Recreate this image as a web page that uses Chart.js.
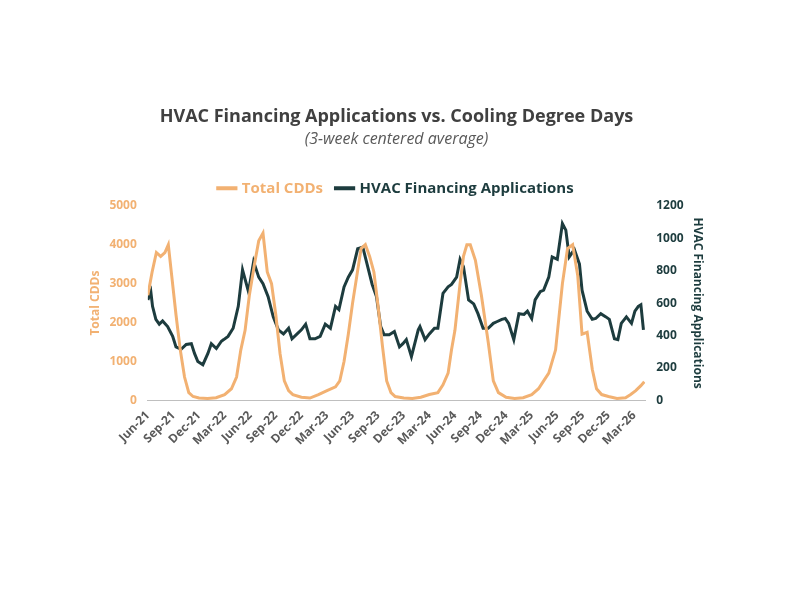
<!DOCTYPE html>
<html>
<head>
<meta charset="utf-8">
<script src="https://cdn.jsdelivr.net/npm/chart.js@4"></script>
<style>
  html, body { margin: 0; padding: 0; background: #fff; }
  #wrap { width: 799px; height: 600px; }
</style>
</head>
<body>
<div id="wrap"><canvas id="chart"></canvas></div>
<script>
// months since Jun-21
const tickLabels = ['Jun-21', 'Sep-21', 'Dec-21', 'Mar-22', 'Jun-22', 'Sep-22', 'Dec-22', 'Mar-23', 'Jun-23', 'Sep-23',
    'Dec-23', 'Mar-24', 'Jun-24', 'Sep-24', 'Dec-24', 'Mar-25', 'Jun-25', 'Sep-25', 'Dec-25', 'Mar-26'];

const cddMonths = [0, 0.5, 1, 1.5, 2, 2.4, 2.8, 3.3, 3.8, 4.3, 4.8, 5.3, 6, 7, 8, 9, 9.8, 10.4, 10.9, 11.4, 11.9, 12.5, 13, 13.5,
    14, 14.5, 15, 15.5, 16, 16.5, 17, 18, 19, 20, 21, 22, 22.5, 23, 23.5, 24, 24.5, 25, 25.5, 26, 26.5, 27, 27.5, 28, 28.5,
    29, 30, 31, 32, 33, 34, 34.6, 35.2, 35.6, 36, 36.6, 37, 37.4, 37.8, 38.4, 39.1, 39.9, 40.5, 41.1, 42, 43, 44, 45, 45.8,
    46.4, 47, 47.8, 48.6, 49.2, 49.8, 50.4, 50.9, 51.5, 52.1, 52.6, 53.2, 54, 55, 56, 56.6, 57.2, 57.8, 58.2];
const cddValues = [2700, 3300, 3800, 3700, 3800, 4000, 3200, 2200, 1300, 600, 200, 100, 60, 50, 70, 150, 300, 600, 1300, 1800,
    2700, 3500, 4100, 4300, 3300, 3000, 2200, 1200, 500, 250, 150, 80, 60, 150, 250, 350, 500, 1000, 1700, 2500, 3200, 3900,
    4000, 3700, 3300, 2400, 1400, 500, 200, 100, 60, 50, 80, 150, 200, 400, 700, 1300, 1800, 3000, 3700, 4000, 4000, 3600,
    2700, 1500, 500, 200, 80, 50, 70, 150, 300, 500, 700, 1300, 3000, 3900, 4000, 3200, 1700, 1750, 800, 300, 150, 100, 50,
    70, 150, 250, 380, 480];

const hvacMonths = [0, 0.35, 0.55, 0.94, 1.34, 1.73, 2.32, 2.91, 3.3, 3.9, 4.5, 5.1, 5.47, 5.86, 6.45, 7.04, 7.44, 8.03, 8.62,
    8.9, 9.4, 10.0, 10.6, 11.1, 11.8, 12.4, 13.0, 13.5, 14.1, 14.7, 15.3, 15.9, 16.5, 16.9, 17.5, 18.0, 18.5, 19.0, 19.6,
    20.2, 20.8, 21.4, 22.0, 22.4, 23.0, 23.5, 24.0, 24.6, 25.2, 25.7, 26.3, 26.8, 27.3, 27.7, 28.3, 28.9, 29.5, 29.9, 30.3,
    30.9, 31.7, 31.9, 32.5, 33.0, 33.6, 34.0, 34.6, 35.2, 35.6, 36.2, 36.6, 37.0, 37.6, 38.2, 38.7, 39.3, 39.9, 40.5, 40.9,
    41.5, 41.9, 42.3, 42.9, 43.5, 44.1, 44.5, 45.0, 45.4, 46.0, 46.4, 47.0, 47.4, 48.0, 48.6, 49.0, 49.4, 50.0, 50.6, 50.9,
    51.5, 52.1, 52.5, 53.1, 53.7, 54.1, 54.7, 55.1, 55.5, 56.1, 56.7, 57.1, 57.5, 57.8, 58.1];
const hvacValues = [620, 670, 580, 500, 470, 490, 455, 395, 330, 315, 345, 350, 290, 240, 220, 290, 350, 320, 365, 375, 395,
    445, 580, 805, 670, 855, 760, 720, 640, 515, 435, 410, 445, 380, 410, 435, 470, 380, 380, 395, 470, 445, 580, 560, 700,
    760, 805, 935, 945, 840, 715, 640, 455, 405, 405, 425, 330, 350, 375, 270, 435, 455, 375, 410, 445, 445, 660, 700, 715,
    760, 870, 825, 620, 595, 535, 445, 445, 475, 485, 500, 505, 475, 375, 535, 530, 550, 505, 620, 670, 680, 760, 885, 870,
    1090, 1050, 885, 930, 840, 680, 550, 500, 505, 535, 515, 500, 380, 375, 475, 515, 475, 550, 580, 590, 435];

const orange = '#F2B172';
const dark = '#1D3C3E';
const tickFont = { family: 'Open Sans', size: 12, weight: 'bold' };

function toPoints(xs, ys) {
    return xs.map((x, i) => ({ x: x, y: ys[i] }));
}

new Chart(document.getElementById('chart'), {
    type: 'line',
    data: {
        datasets: [
            {
                label: 'Total CDDs',
                data: toPoints(cddMonths, cddValues),
                borderColor: orange,
                backgroundColor: orange,
                borderWidth: 3,
                pointRadius: 0,
                yAxisID: 'y'
            },
            {
                label: 'HVAC Financing Applications',
                data: toPoints(hvacMonths, hvacValues),
                borderColor: dark,
                backgroundColor: dark,
                borderWidth: 3,
                pointRadius: 0,
                yAxisID: 'y1'
            }
        ]
    },
    options: {
        responsive: true,
        maintainAspectRatio: false,
        animation: false,
        layout: { padding: { top: 106, left: 84, right: 90, bottom: 149 } },
        scales: {
            x: {
                type: 'linear',
                min: 0,
                max: 58.3,
                grid: { display: false, drawTicks: true, tickLength: 5, tickColor: '#bfbfbf' },
                border: { color: '#bfbfbf' },
                afterBuildTicks: axis => {
                    axis.ticks = tickLabels.map((_, i) => ({ value: i * 3 }));
                },
                ticks: {
                    autoSkip: false,
                    minRotation: 45,
                    maxRotation: 45,
                    color: '#595959',
                    font: tickFont,
                    callback: value => tickLabels[Math.round(value / 3)]
                }
            },
            y: {
                position: 'left',
                min: 0,
                max: 5000,
                grid: { display: false },
                border: { display: false },
                ticks: { stepSize: 1000, color: orange, font: tickFont, callback: v => String(v) },
                title: { display: true, text: 'Total CDDs', color: orange, font: tickFont }
            },
            y1: {
                position: 'right',
                min: 0,
                max: 1200,
                grid: { display: false },
                border: { display: false },
                ticks: { stepSize: 200, color: dark, font: tickFont, callback: v => String(v) },
                title: { display: true, text: 'HVAC Financing Applications', color: dark, font: tickFont }
            }
        },
        plugins: {
            title: {
                display: true,
                text: 'HVAC Financing Applications vs. Cooling Degree Days',
                color: '#404040',
                font: { family: 'Open Sans', size: 18, weight: 'bold' },
                padding: { top: 0, bottom: 2 }
            },
            subtitle: {
                display: true,
                text: '(3-week centered average)',
                color: '#595959',
                font: { family: 'Open Sans', size: 16, style: 'italic' },
                padding: { bottom: 18 }
            },
            legend: {
                labels: {
                    usePointStyle: true,
                    pointStyle: 'line',
                    boxWidth: 30,
                    padding: 14,
                    font: { family: 'Open Sans', size: 15, weight: 'bold' },
                    generateLabels: chart => chart.data.datasets.map((ds, i) => ({
                        text: ds.label,
                        fillStyle: ds.borderColor,
                        strokeStyle: ds.borderColor,
                        lineWidth: 4,
                        pointStyle: 'line',
                        fontColor: ds.borderColor,
                        datasetIndex: i
                    }))
                }
            }
        }
    }
});
</script>
</body>
</html>
